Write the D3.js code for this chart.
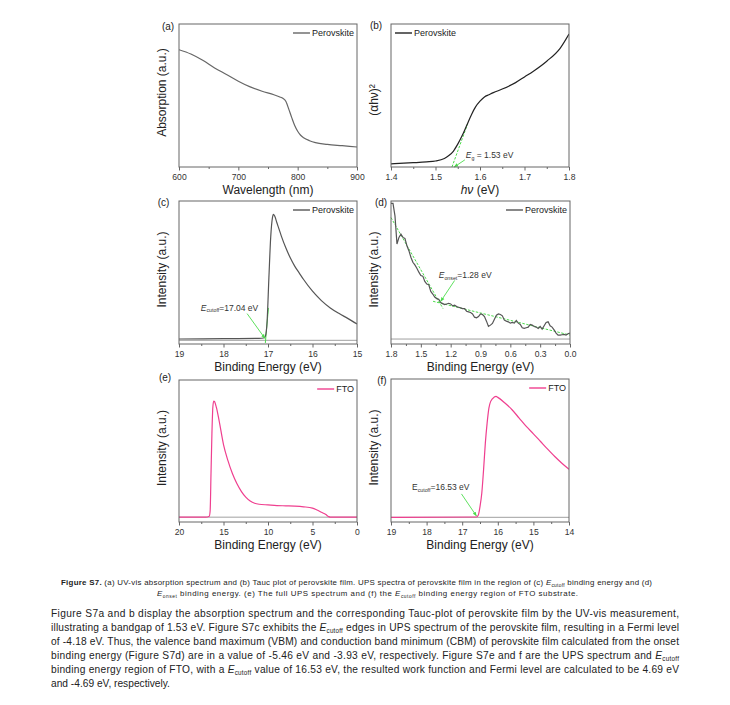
<!DOCTYPE html>
<html lang="en">
<head>
<meta charset="UTF-8">
<title>Figure S7</title>
<script src="https://d3js.org/d3.v7.min.js"></script>
<style>
    body { margin: 0; background: #fff; }
    svg { display: block; font-family: 'Liberation Sans', Arial, sans-serif; }
    .frame { fill: none; stroke: #666; stroke-width: 1; }
    .zero { stroke: #888; stroke-width: 0.8; }
    .tick text { font-size: 8.6px; fill: #333; }
    .tick line { stroke: #666; }
    .title { font-size: 12px; fill: #222; }
    .legend { font-size: 9px; fill: #222; }
    .plabel { font-size: 10px; fill: #222; }
    .note { font-size: 8.5px; fill: #333; }
    .fit { stroke: #4cdc4c; stroke-width: 1; fill: none; }
</style>
</head>
<body>
<svg width="730" height="705"></svg>
<script>
// (a) UV-vis absorption
const absWavelength = [600, 620, 640, 660, 680, 700, 720, 740, 760, 770, 775, 780, 782, 785, 790, 795, 800, 805, 810, 820, 830, 850, 875, 900];
const absValue = [0.82, 0.79, 0.746, 0.693, 0.647, 0.60, 0.56, 0.53, 0.505, 0.49, 0.48, 0.46, 0.44, 0.405, 0.345, 0.29, 0.25, 0.222, 0.205, 0.184, 0.17, 0.158, 0.149, 0.14];

// (b) Tauc plot
const taucEnergy = [1.40, 1.45, 1.48, 1.50, 1.52, 1.53, 1.54, 1.55, 1.56, 1.57, 1.58, 1.59, 1.60, 1.61, 1.62, 1.63, 1.65, 1.68, 1.70, 1.72, 1.75, 1.78, 1.80];
const taucValue = [0.022, 0.03, 0.036, 0.042, 0.06, 0.08, 0.11, 0.16, 0.22, 0.29, 0.36, 0.42, 0.46, 0.49, 0.505, 0.52, 0.545, 0.59, 0.63, 0.67, 0.74, 0.83, 0.93];

// (c) UPS cutoff, perovskite
const cutEnergy = [19, 18, 17.2, 17.1, 17.06, 17.02, 16.98, 16.94, 16.9, 16.88, 16.85, 16.8, 16.75, 16.7, 16.6, 16.5, 16.4, 16.3, 16.2, 16.0, 15.8, 15.6, 15.4, 15.2, 15.0];
const cutIntensity = [4, 5, 6, 7, 12, 57, 187, 307, 367, 377, 372, 352, 332, 312, 277, 247, 222, 202, 182, 147, 119, 97, 80, 65, 49];

// (d) UPS onset, perovskite
const onsetEnergy = [1.80, 1.78, 1.76, 1.74, 1.72, 1.70, 1.68, 1.66, 1.64, 1.62, 1.60, 1.58, 1.56, 1.54, 1.52, 1.50, 1.48, 1.46, 1.44, 1.42, 1.40, 1.38, 1.36, 1.34, 1.32, 1.30, 1.28, 1.26, 1.24, 1.22, 1.20, 1.18, 1.16, 1.14, 1.12, 1.10, 1.08, 1.06, 1.04, 1.02, 1.00, 0.98, 0.96, 0.94, 0.92, 0.90, 0.88, 0.86, 0.84, 0.82, 0.80, 0.78, 0.76, 0.74, 0.72, 0.70, 0.68, 0.66, 0.64, 0.62, 0.60, 0.58, 0.56, 0.54, 0.52, 0.50, 0.48, 0.46, 0.44, 0.42, 0.40, 0.38, 0.36, 0.34, 0.32, 0.30, 0.28, 0.26, 0.24, 0.22, 0.20, 0.18, 0.16, 0.14, 0.12, 0.10, 0.08, 0.06, 0.04, 0.02, 0.00];
const onsetIntensity = [410, 410, 372, 287, 307, 317, 307, 304, 282, 267, 247, 232, 224, 214, 202, 192, 190, 174, 166, 164, 144, 136, 127, 122, 120, 110, 107, 104, 106, 108, 106, 100, 102, 98, 96, 94, 92, 92, 84, 82, 80, 76, 66, 64, 68, 76, 74, 68, 54, 38, 42, 47, 60, 72, 76, 74, 70, 57, 54, 52, 48, 50, 48, 56, 48, 44, 34, 32, 34, 36, 44, 42, 38, 36, 32, 38, 30, 40, 50, 52, 40, 36, 28, 18, 12, 12, 13, 14, 12, 16, 18];

// (e) full UPS, FTO
const ftoFullEnergy = [20, 17, 16.6, 16.5, 16.4, 16.3, 16.2, 16.1, 16.0, 15.8, 15.5, 15.0, 14.5, 14.0, 13.5, 13.0, 12.5, 12.0, 11.5, 11.0, 10.0, 9.0, 8.0, 7.0, 6.0, 5.0, 4.5, 4.0, 3.5, 3.2, 3.0, 0];
const ftoFullIntensity = [0, 0, 3, 20, 140, 260, 340, 360, 358, 340, 300, 225, 175, 135, 104, 80, 62, 50, 43, 40, 38, 36, 35, 34, 32, 28, 22, 15, 8, 2, 0, 0];

// (f) UPS cutoff, FTO
const ftoCutEnergy = [19, 16.6, 16.55, 16.5, 16.45, 16.4, 16.35, 16.3, 16.25, 16.2, 16.1, 16.05, 16.0, 15.8, 15.6, 15.4, 15.2, 15.0, 14.8, 14.6, 14.4, 14.2, 14.0];
const ftoCutIntensity = [0, 1, 6, 32, 72, 142, 222, 282, 327, 347, 360, 362, 359, 342, 322, 297, 272, 250, 227, 204, 182, 162, 144];

const captionLines = [
    '**Figure S7.** (a) UV-vis absorption spectrum and (b) Tauc plot of perovskite film. UPS spectra of perovskite film in the region of (c) {cutoff} binding energy and (d)',
    '{onset} binding energy. (e) The full UPS spectrum and (f) the {cutoff} binding energy region of FTO substrate.'
];
const bodyLines = [
    'Figure S7a and b display the absorption spectrum and the corresponding Tauc-plot of perovskite film by the UV-vis measurement,',
    'illustrating a bandgap of 1.53 eV. Figure S7c exhibits the {cutoff} edges in UPS spectrum of the perovskite film, resulting in a Fermi level',
    'of -4.18 eV. Thus, the valence band maximum (VBM) and conduction band minimum (CBM) of perovskite film calculated from the onset',
    'binding energy (Figure S7d) are in a value of -5.46 eV and -3.93 eV, respectively. Figure S7e and f are the UPS spectrum and {cutoff}',
    'binding energy region of FTO, with a {cutoff} value of 16.53 eV, the resulted work function and Fermi level are calculated to be 4.69 eV',
    'and -4.69 eV, respectively.'
];

const svg = d3.select('svg');
const green = '#4cdc4c';
const pink = '#ef3f8f';

svg.append('defs').append('marker')
    .attr('id', 'arrow').attr('viewBox', '0 0 10 10').attr('refX', 9).attr('refY', 5)
    .attr('markerWidth', 5).attr('markerHeight', 5).attr('orient', 'auto')
    .append('path').attr('d', 'M0,1L10,5L0,9z').attr('fill', green);

// text with E-subscripts: {x} italic E_x, [x] upright E_x, **bold**
function rich(sel, str, size) {
    let reset = 0;
    str.split(/(\{\w+\}|\[\w+\]|\*\*[^*]+\*\*)/).filter(s => s).forEach(s => {
        if (s[0] === '{' || s[0] === '[') {
            const e = sel.append('tspan').text('E');
            if (s[0] === '{') e.attr('font-style', 'italic');
            if (reset) e.attr('dy', -reset);
            sel.append('tspan').attr('font-size', size * 0.62).attr('dy', size * 0.22).text(s.slice(1, -1));
            reset = size * 0.22;
        } else {
            const t = sel.append('tspan');
            if (s.startsWith('**')) t.attr('font-weight', 'bold').text(s.slice(2, -2));
            else t.text(s);
            if (reset) { t.attr('dy', -reset); reset = 0; }
        }
    });
}

const L = [179, 357], R = [391, 569];
const panels = [
    { id: 'a', x: L, y: [24, 167], xDomain: [600, 900], yDomain: [0, 1], xs: absWavelength, ys: absValue,
      major: [600, 700, 800, 900], minor: [650, 750, 850], fmt: 'd', color: '#666', legend: 'Perovskite',
      label: [168, 26], xTitle: 'Wavelength (nm)', yTitle: 'Absorption (a.u.)' },
    { id: 'b', x: R, y: [24, 167], xDomain: [1.4, 1.8], yDomain: [0, 1], xs: taucEnergy, ys: taucValue,
      major: [1.4, 1.5, 1.6, 1.7, 1.8], minor: [1.45, 1.55, 1.65, 1.75], fmt: '.1f', color: '#222', legend: 'Perovskite', legendLeft: true,
      label: [376, 25], xTitle: '<tspan font-style="italic">hν</tspan> (eV)', yTitle: '(αhν)²', yTitleY: 100 },
    { id: 'c', x: L, y: [201, 344], xDomain: [19, 15], yDomain: [-11, 417], xs: cutEnergy, ys: cutIntensity,
      major: [19, 18, 17, 16, 15], minor: [18.5, 17.5, 16.5, 15.5], fmt: 'd', color: '#555', legend: 'Perovskite', zero: true,
      label: [163.5, 202], xTitle: 'Binding Energy (eV)', yTitle: 'Intensity (a.u.)' },
    { id: 'd', x: [391, 570], y: [201, 344], xDomain: [1.8, 0], yDomain: [-15, 417], xs: onsetEnergy, ys: onsetIntensity, linear: true,
      major: [1.8, 1.5, 1.2, 0.9, 0.6, 0.3, 0.0], minor: [1.65, 1.35, 1.05, 0.75, 0.45, 0.15], fmt: '.1f', color: '#555', legend: 'Perovskite', zero: true,
      label: [381, 202], xTitle: 'Binding Energy (eV)', yTitle: 'Intensity (a.u.)' },
    { id: 'e', x: L, y: [380, 522], xDomain: [20, 0], yDomain: [-15, 425], xs: ftoFullEnergy, ys: ftoFullIntensity,
      major: [20, 15, 10, 5, 0], minor: [17.5, 12.5, 7.5, 2.5], fmt: 'd', color: pink, legend: 'FTO', zero: true,
      label: [165, 377], xTitle: 'Binding Energy (eV)', yTitle: 'Intensity (a.u.)' },
    { id: 'f', x: R, y: [379, 522], xDomain: [19, 14], yDomain: [-14, 414], xs: ftoCutEnergy, ys: ftoCutIntensity,
      major: [19, 18, 17, 16, 15, 14], minor: [18.5, 17.5, 16.5, 15.5, 14.5], fmt: 'd', color: pink, legend: 'FTO', zero: true,
      label: [382, 380], xTitle: 'Binding Energy (eV)', yTitle: 'Intensity (a.u.)' }
];

// annotations in data coordinates
const notes = {
    b: { text: '{g} = 1.53 eV', at: [1.568, 0.06], arrow: [[1.566, 0.05], [1.542, 0.0]],
         fits: [[[1.537, 0], [1.572, 0.30]]], dashed: true },
    c: { text: '{cutoff}=17.04 eV', at: [18.51, 89], arrow: [[17.47, 80], [17.07, 6]],
         fits: [[[17.06, -8], [16.99, 97]]] },
    d: { text: '{onset}=1.28 eV', at: [1.32, 183], arrow: [[1.16, 177], [1.30, 114]],
         fits: [[[1.8, 367], [1.277, 92]], [[1.377, 114], [0, 12]]], dashed: true },
    f: { text: '[cutoff]=16.53 eV', at: [18.41, 82], arrow: [[17.02, 70], [16.6, 4]], fits: [] }
};

panels.forEach(p => {
    const [left, right] = p.x, [top, bottom] = p.y;
    const x = d3.scaleLinear().domain(p.xDomain).range([left, right]);
    const y = d3.scaleLinear().domain(p.yDomain).range([bottom, top]);
    const g = svg.append('g');

    svg.select('defs').append('clipPath').attr('id', 'clip-' + p.id)
        .append('rect').attr('x', left).attr('y', top).attr('width', right - left).attr('height', bottom - top);

    g.append('g').attr('transform', `translate(0,${bottom})`)
        .call(d3.axisBottom(x).tickValues(p.minor).tickSize(2).tickFormat(''))
        .call(a => a.select('.domain').remove());
    g.append('g').attr('transform', `translate(0,${bottom})`)
        .call(d3.axisBottom(x).tickValues(p.major).tickSize(3.5).tickPadding(3.5).tickFormat(d3.format(p.fmt)))
        .call(a => a.select('.domain').remove())
        .attr('font-family', null).attr('font-size', null);

    if (p.zero) {
        g.append('line').attr('class', 'zero')
            .attr('x1', left).attr('x2', right).attr('y1', y(0)).attr('y2', y(0));
    }

    const n = notes[p.id];
    if (n) {
        n.fits.forEach(f => {
            g.append('line').attr('class', 'fit')
                .attr('x1', x(f[0][0])).attr('y1', y(f[0][1])).attr('x2', x(f[1][0])).attr('y2', y(f[1][1]))
                .attr('stroke-dasharray', n.dashed ? '2.5,1.5' : null);
        });
    }

    const line = d3.line().x(d => x(d[0])).y(d => y(d[1]))
        .curve(p.linear ? d3.curveLinear : d3.curveMonotoneX);
    g.append('path').datum(d3.zip(p.xs, p.ys))
        .attr('clip-path', `url(#clip-${p.id})`)
        .attr('fill', 'none').attr('stroke', p.color).attr('stroke-width', 1.2)
        .attr('d', line);

    if (n) {
        g.append('line').attr('stroke', green).attr('stroke-width', 0.9)
            .attr('x1', x(n.arrow[0][0])).attr('y1', y(n.arrow[0][1]))
            .attr('x2', x(n.arrow[1][0])).attr('y2', y(n.arrow[1][1]))
            .attr('marker-end', 'url(#arrow)');
        const t = g.append('text').attr('class', 'note').attr('x', x(n.at[0])).attr('y', y(n.at[1]));
        rich(t, n.text, 8.5);
    }

    g.append('rect').attr('class', 'frame')
        .attr('x', left).attr('y', top).attr('width', right - left).attr('height', bottom - top);

    // legend
    const ly = top + 9;
    const lt = g.append('text').attr('class', 'legend').attr('y', ly + 3).text(p.legend);
    let lx;
    if (p.legendLeft) {
        lx = left + 4;
        lt.attr('x', lx + 19);
    } else {
        lt.attr('x', right - 3).attr('text-anchor', 'end');
        lx = right - 3 - lt.node().getComputedTextLength() - 19;
    }
    g.append('line').attr('stroke', p.color).attr('stroke-width', 1.4)
        .attr('x1', lx).attr('x2', lx + 17).attr('y1', ly).attr('y2', ly);

    // titles and panel label
    g.append('text').attr('class', 'title').attr('text-anchor', 'middle')
        .attr('x', (left + right) / 2).attr('y', bottom + 27).html(p.xTitle);
    const ty = p.yTitleY || (top + bottom) / 2 - 3;
    g.append('text').attr('class', 'title').attr('text-anchor', 'middle')
        .attr('transform', `translate(${left - 17},${ty}) rotate(-90)`)
        .attr('dy', '0.35em').text(p.yTitle);
    g.append('text').attr('class', 'plabel').attr('text-anchor', 'middle')
        .attr('x', p.label[0]).attr('y', p.label[1] + 3.5).text(`(${p.id})`);
});

// caption
const capPos = [[61, 585, 591], [157, 596, 421]];
captionLines.forEach((s, i) => {
    const t = svg.append('text').attr('x', capPos[i][0]).attr('y', capPos[i][1])
        .attr('font-size', 7.9).attr('fill', '#222')
        .attr('textLength', capPos[i][2]).attr('lengthAdjust', 'spacing');
    rich(t, s, 7.9);
});

// body paragraph, justified except the last line
bodyLines.forEach((s, i) => {
    const t = svg.append('text').attr('x', 51).attr('y', 617 + i * 13.9)
        .attr('font-size', 10.2).attr('fill', '#222');
    rich(t, s, 10.2);
    if (i < bodyLines.length - 1) t.attr('textLength', 628).attr('lengthAdjust', 'spacing');
});
</script>
</body>
</html>
